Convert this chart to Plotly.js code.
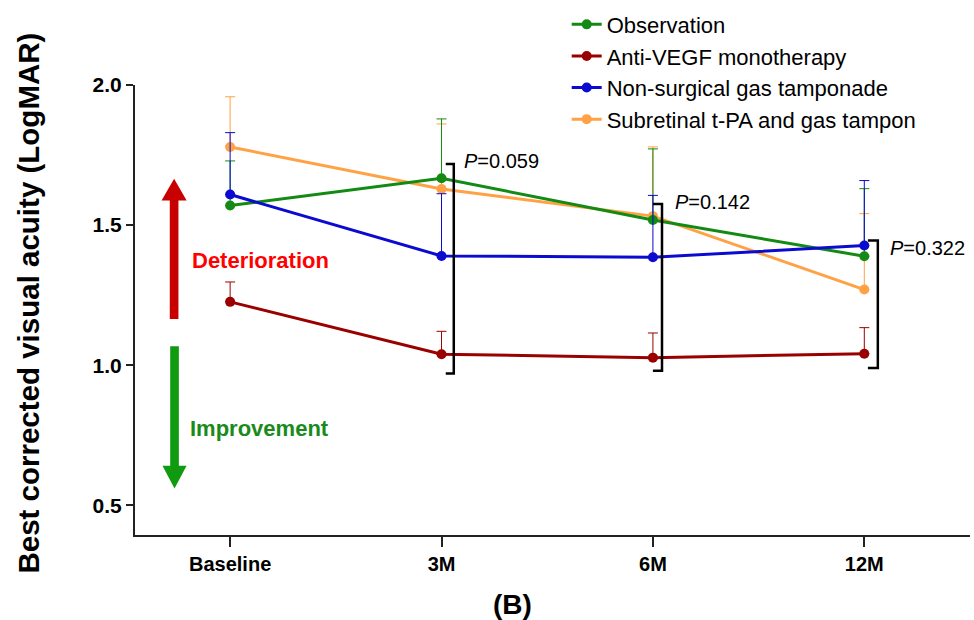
<!DOCTYPE html>
<html>
<head>
<meta charset="utf-8">
<script src="https://cdn.plot.ly/plotly-3.0.1.min.js"></script>
<style>html,body{margin:0;padding:0;background:#fff;}#chart{width:974px;height:620px;}</style>
</head>
<body>
<div id="chart"></div>
<script>
// ---- data ----
var categories = ['Baseline', '3M', '6M', '12M'];
var yTicks = [0.5, 1.0, 1.5, 2.0];

var seriesNames = ['Observation', 'Anti-VEGF monotherapy', 'Non-surgical gas tamponade', 'Subretinal t-PA and gas tampon'];

// mean LogMAR
var observationMean   = [1.57, 1.667, 1.518, 1.389];
var antiVegfMean      = [1.226, 1.039, 1.027, 1.041];
var nonSurgicalMean   = [1.609, 1.390, 1.385, 1.427];
var subretinalMean    = [1.779, 1.629, 1.532, 1.270];

// upper end of error bar (mean + SD)
var observationUpper  = [1.729, 1.879, 1.772, 1.630];
var antiVegfUpper     = [1.297, 1.121, 1.115, 1.134];
var nonSurgicalUpper  = [1.830, 1.612, 1.606, 1.659];
var subretinalUpper   = [1.958, 1.861, 1.779, 1.541];

var pValues = ['0.059', '0.142', '0.322'];

// ---- build ----
var xIdx = categories.map(function(_, i){ return i; });
function upErr(mean, up){ return mean.map(function(m, i){ return up[i] - m; }); }
function noErr(mean){ return mean.map(function(){ return 0; }); }

var colors = {
  obs: '#138a13',
  anti: '#9b0000',
  non: '#0a0ad0',
  sub: '#ffa245'
};

function mk(name, mean, up, color, rank){
  return {
    type: 'scatter', mode: 'lines+markers', name: name,
    x: xIdx, y: mean,
    line: {color: color, width: 3},
    marker: {color: color, size: 10},
    error_y: {type: 'data', symmetric: false, array: upErr(mean, up), arrayminus: noErr(mean),
              color: color, thickness: 1, width: 5},
    legendrank: rank
  };
}

var traces = [
  mk(seriesNames[3], subretinalMean, subretinalUpper, colors.sub, 4),
  mk(seriesNames[1], antiVegfMean, antiVegfUpper, colors.anti, 2),
  mk(seriesNames[0], observationMean, observationUpper, colors.obs, 1),
  mk(seriesNames[2], nonSurgicalMean, nonSurgicalUpper, colors.non, 3)
];

var FONT = 'Liberation Sans, Arial, Helvetica, sans-serif';

function bracket(xl, xr, yt, yb){
  return {type: 'path', xref: 'x', yref: 'y',
    path: 'M' + xl + ',' + yt + ' L' + xr + ',' + yt + ' L' + xr + ',' + yb + ' L' + xl + ',' + yb,
    line: {color: '#000', width: 2.5}};
}
function arrowShape(xc, hw, hh, yTip, yBase, yBot, color){
  return {type: 'path', xref: 'x', yref: 'y', fillcolor: color, line: {width: 0},
    path: 'M' + (xc - hw) + ',' + yBot + ' L' + (xc - hw) + ',' + yBase + ' L' + (xc - hh) + ',' + yBase +
          ' L' + xc + ',' + yTip + ' L' + (xc + hh) + ',' + yBase + ' L' + (xc + hw) + ',' + yBase +
          ' L' + (xc + hw) + ',' + yBot + ' Z'};
}

var layout = {
  width: 974, height: 620,
  margin: {l: 135, r: 4, t: 80, b: 85},
  paper_bgcolor: '#fff', plot_bgcolor: '#fff',
  font: {family: FONT, color: '#000'},
  showlegend: true,
  legend: {x: 0.517, y: 1.181, xanchor: 'left', yanchor: 'top', bgcolor: 'rgba(0,0,0,0)',
           font: {size: 22, family: FONT, color: '#000'}, traceorder: 'normal'},
  xaxis: {
    range: [-0.45, 3.5], tickvals: xIdx, ticktext: categories,
    showline: true, linecolor: '#222', linewidth: 2, mirror: false,
    ticks: 'outside', ticklen: 10, tickwidth: 2, tickcolor: '#222',
    showgrid: false, zeroline: false,
    tickfont: {size: 20, family: FONT, weight: 'bold', color: '#000'}
  },
  yaxis: {
    range: [0.394, 2.0], tickvals: yTicks, tickformat: '.1f',
    showline: true, linecolor: '#222', linewidth: 2,
    ticks: 'outside', ticklen: 7, tickwidth: 2, tickcolor: '#222',
    showgrid: false, zeroline: false,
    tickfont: {size: 21, family: FONT, weight: 'bold', color: '#000'}
  },
  shapes: [
    bracket(1.020, 1.058, 1.718, 0.970),
    bracket(2.000, 2.043, 1.575, 0.980),
    bracket(3.017, 3.064, 1.445, 0.990),
    arrowShape(-0.265, 0.0205, 0.0593, 1.665, 1.588, 1.1645, '#c80000'),
    arrowShape(-0.263, 0.0205, 0.057, 0.560, 0.641, 1.068, '#109a10')
  ],
  annotations: [
    {xref: 'paper', yref: 'paper', x: (29 - 135) / 835, y: (535 - 301) / 455, xanchor: 'center', yanchor: 'middle',
     textangle: -90, showarrow: false, text: 'Best corrected visual acuity (LogMAR)',
     font: {size: 29.5, family: FONT, weight: 'bold', color: '#000'}},
    {xref: 'x', yref: 'y', x: 1.095, y: 1.728, xanchor: 'left', yanchor: 'middle', showarrow: false,
     text: '<i>P</i>=' + pValues[0], font: {size: 20, family: FONT, color: '#000'}},
    {xref: 'x', yref: 'y', x: 2.097, y: 1.583, xanchor: 'left', yanchor: 'middle', showarrow: false,
     text: '<i>P</i>=' + pValues[1], font: {size: 20, family: FONT, color: '#000'}},
    {xref: 'x', yref: 'y', x: 3.112, y: 1.418, xanchor: 'left', yanchor: 'middle', showarrow: false,
     text: '<i>P</i>=' + pValues[2], font: {size: 20, family: FONT, color: '#000'}},
    {xref: 'x', yref: 'y', x: -0.19, y: 1.375, xanchor: 'left', yanchor: 'middle', showarrow: false,
     text: 'Deterioration', font: {size: 22, family: FONT, weight: 'bold', color: '#ff0000'}},
    {xref: 'x', yref: 'y', x: -0.2, y: 0.775, xanchor: 'left', yanchor: 'middle', showarrow: false,
     text: 'Improvement', font: {size: 22, family: FONT, weight: 'bold', color: '#1a8a1a'}},
    {xref: 'paper', yref: 'paper', x: (512 - 135) / 835, y: -(605 - 535) / 455, xanchor: 'center', yanchor: 'middle',
     showarrow: false, text: '(B)', font: {size: 28, family: FONT, weight: 'bold', color: '#000'}}
  ]
};

Plotly.newPlot('chart', traces, layout, {staticPlot: true, displayModeBar: false});
</script>
</body>
</html>
